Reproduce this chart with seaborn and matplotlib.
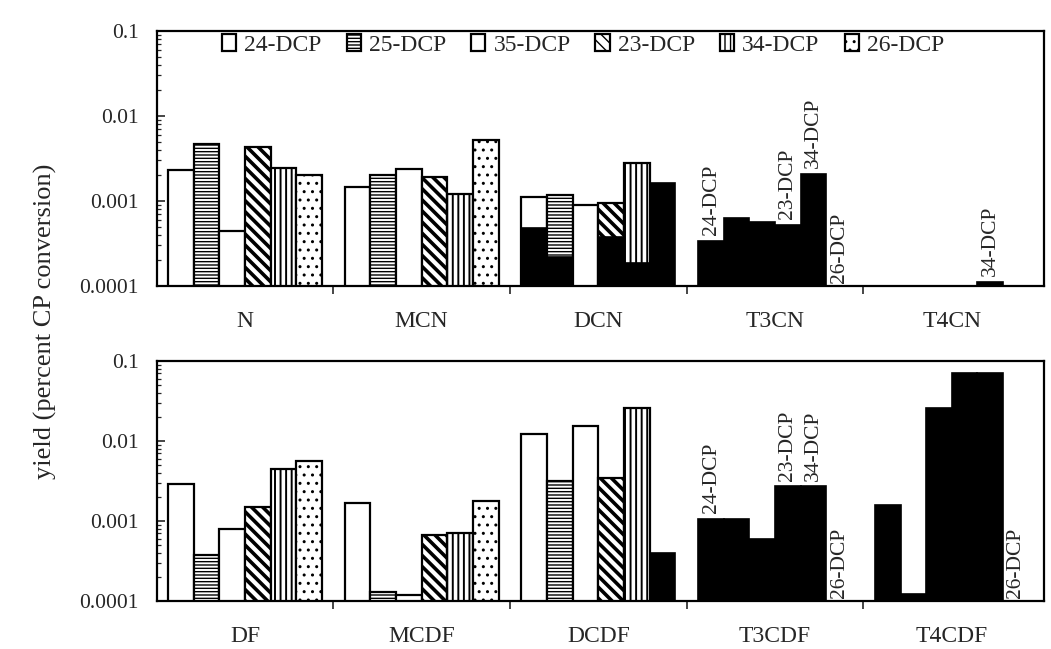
import numpy as np
import pandas as pd
import matplotlib
matplotlib.use("Agg")
import matplotlib.pyplot as plt
import matplotlib.ticker as mticker
import seaborn as sns

nan = np.nan
isomers = ['24-DCP', '25-DCP', '35-DCP', '23-DCP', '34-DCP', '26-DCP']
top_groups = ['N', 'MCN', 'DCN', 'T3CN', 'T4CN']
bot_groups = ['DF', 'MCDF', 'DCDF', 'T3CDF', 'T4CDF']

# patterned (open) bars, one list per isomer across the 5 groups
top_open_24 = [0.00232, 0.00147, 0.00112, nan, nan]
top_open_25 = [0.00465, 0.00200, 0.00118, nan, nan]
top_open_35 = [0.000447, 0.00238, 0.000897, nan, nan]
top_open_23 = [0.00432, 0.00193, 0.00095, nan, nan]
top_open_34 = [0.00246, 0.00120, 0.00278, nan, nan]
top_open_26 = [0.00200, 0.00518, nan, nan, nan]

# solid black bars
top_black_24 = [nan, nan, 0.00048, 0.00034, nan]
top_black_25 = [nan, nan, 0.00022, 0.00063, nan]
top_black_35 = [nan, nan, nan, 0.00057, nan]
top_black_23 = [nan, nan, 0.00038, 0.00052, nan]
top_black_34 = [nan, nan, 0.000185, 0.00206, 0.000112]
top_black_26 = [nan, nan, 0.00164, nan, nan]

bot_open_24 = [0.00287, 0.00166, 0.0122, nan, nan]
bot_open_25 = [0.000376, 0.000131, 0.00319, nan, nan]
bot_open_35 = [0.00079, 0.000119, 0.0154, nan, nan]
bot_open_23 = [0.00150, 0.000668, 0.00348, nan, nan]
bot_open_34 = [0.00451, 0.000714, 0.0256, nan, nan]
bot_open_26 = [0.00567, 0.00179, nan, nan, nan]

bot_black_24 = [nan, nan, nan, 0.00106, 0.00158]
bot_black_25 = [nan, nan, nan, 0.00106, 0.000121]
bot_black_35 = [nan, nan, nan, 0.00059, 0.0261]
bot_black_23 = [nan, nan, nan, 0.0027, 0.0702]
bot_black_34 = [nan, nan, nan, 0.0027, 0.0702]
bot_black_26 = [nan, nan, 0.000402, nan, nan]

# rotated labels: (group, isomer, at_baseline)
top_annots = [('T3CN', '24-DCP', False), ('T3CN', '23-DCP', False),
              ('T3CN', '34-DCP', False), ('T3CN', '26-DCP', True),
              ('T4CN', '34-DCP', False)]
bot_annots = [('T3CDF', '24-DCP', False), ('T3CDF', '23-DCP', False),
              ('T3CDF', '34-DCP', False), ('T3CDF', '26-DCP', True),
              ('T4CDF', '26-DCP', True)]

ytick_vals = [0.0001, 0.001, 0.01, 0.1]
ytick_labels = ['0.0001', '0.001', '0.01', '0.1']
ylabel = 'yield (percent CP conversion)'

hatches = ['', '-----', '', '\\\\\\', '|||', '..']
hatch_lw = [1.0, 1.0, 1.0, 2.6, 1.4, 1.0]


def long_df(groups, cols):
    rows = []
    for iso, vals in zip(isomers, cols):
        for g, v in zip(groups, vals):
            rows.append({'group': g, 'isomer': iso, 'value': v})
    return pd.DataFrame(rows)


sns.set_style('ticks')
plt.rcParams['font.family'] = ['Liberation Serif', 'DejaVu Serif']
plt.rcParams['hatch.color'] = 'black'

fig = plt.figure(figsize=(10.51, 6.49), dpi=100)
ax_top = fig.add_axes([0.149, 0.5593, 0.844, 0.3929])
ax_bot = fig.add_axes([0.149, 0.074, 0.844, 0.3698])

panels = [
    (ax_top, top_groups,
     [top_open_24, top_open_25, top_open_35, top_open_23, top_open_34, top_open_26],
     [top_black_24, top_black_25, top_black_35, top_black_23, top_black_34, top_black_26],
     top_annots),
    (ax_bot, bot_groups,
     [bot_open_24, bot_open_25, bot_open_35, bot_open_23, bot_open_34, bot_open_26],
     [bot_black_24, bot_black_25, bot_black_35, bot_black_23, bot_black_34, bot_black_26],
     bot_annots),
]

legend_handles = None
for ax, groups, open_cols, black_cols, annots in panels:
    ax.set_yscale('log')
    d_open = long_df(groups, open_cols)
    d_black = long_df(groups, black_cols)
    sns.barplot(data=d_open, x='group', y='value', hue='isomer', order=groups,
                hue_order=isomers, palette=['white'] * 6, saturation=1,
                edgecolor='black', linewidth=1.6, width=0.87, gap=0,
                errorbar=None, legend=False, ax=ax)
    n_open = len(ax.containers)
    for i, cont in enumerate(ax.containers[:n_open]):
        for p in cont.patches:
            p.set_hatch(hatches[i])
            if hasattr(p, 'set_hatch_linewidth'):
                p.set_hatch_linewidth(hatch_lw[i])
    if legend_handles is None:
        legend_handles = list(ax.containers[:n_open])
    sns.barplot(data=d_black, x='group', y='value', hue='isomer', order=groups,
                hue_order=isomers, palette=['black'] * 6, saturation=1,
                edgecolor='black', linewidth=1.2, width=0.87, gap=0,
                errorbar=None, legend=False, ax=ax)

    # annotations placed from the bar layout of each hue level
    for g, iso, at_base in annots:
        gi = groups.index(g)
        hi = isomers.index(iso)
        vals = black_cols[hi]
        cont = ax.containers[hi]
        p0 = cont.patches[0]
        c0 = p0.get_x() + p0.get_width() / 2
        xc = gi + (c0 - round(c0))
        y = 0.000108 if (at_base or np.isnan(vals[gi])) else vals[gi] * 1.18
        ax.text(xc, y, iso, rotation=90, ha='center', va='bottom', fontsize=15.5)

    ax.set_ylim(0.0001, 0.1)
    ax.set_xlim(-0.5, 4.52)
    ax.set_yticks(ytick_vals)
    ax.set_yticklabels(ytick_labels)
    ax.yaxis.set_minor_locator(mticker.LogLocator(base=10, subs=np.arange(2, 10)))
    ax.yaxis.set_minor_formatter(mticker.NullFormatter())
    ax.tick_params(axis='y', which='major', direction='in', length=6, width=1.2,
                   labelsize=15.5, pad=13)
    ax.tick_params(axis='y', which='minor', direction='in', length=3, width=0.9)
    ax.set_xticks(range(len(groups)))
    ax.set_xticklabels(groups)
    ax.set_xticks([0.5, 1.5, 2.5, 3.5], minor=True)
    ax.tick_params(axis='x', which='major', length=0, labelsize=17, pad=18)
    ax.tick_params(axis='x', which='minor', direction='out', length=6, width=1.2)
    ax.set_xlabel('')
    ax.set_ylabel('')
    for s in ax.spines.values():
        s.set_visible(True)
        s.set_linewidth(1.6)
        s.set_color('black')

ax_top.legend(legend_handles, isomers, ncol=6, frameon=False,
              loc='center left', bbox_to_anchor=(0.063, 0.945),
              handlelength=0.6, handleheight=0.75, handletextpad=0.35,
              columnspacing=1.05, fontsize=17, borderaxespad=0)

fig.text(0.043, 0.505, ylabel, rotation=90, ha='center', va='center', fontsize=19)

fig.savefig('out.png', dpi=100)
